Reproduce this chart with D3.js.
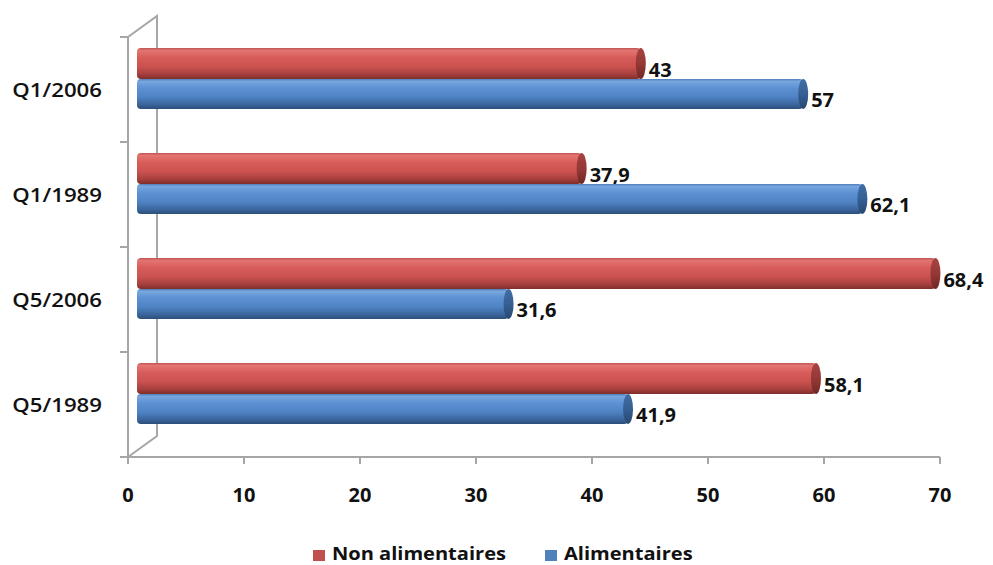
<!DOCTYPE html>
<html><head><meta charset="utf-8">
<script src="https://cdn.jsdelivr.net/npm/d3@7/dist/d3.min.js"></script>
<style>
html,body{margin:0;padding:0;background:#fff;}
text{font-family:"Open Sans",sans-serif;fill:#111;}
</style></head>
<body>
<svg id="chart" width="993" height="565"></svg>
<script>
const categories = ["Q1/2006", "Q1/1989", "Q5/2006", "Q5/1989"];
const nonAlimentaires = [43, 37.9, 68.4, 58.1];
const alimentaires = [57, 62.1, 31.6, 41.9];
const xTicks = [0, 10, 20, 30, 40, 50, 60, 70];
const seriesNames = ["Non alimentaires", "Alimentaires"];

const svg = d3.select("#chart");
const x = d3.scaleLinear().domain([0, 70]).range([128, 940]);
const y = d3.scaleBand().domain(categories).range([37, 457]).padding(0);
const depthX = 29, depthY = 21;
const axisColor = "#a6a6a6";

const defs = svg.append("defs");
function cyl(id, stops) {
  const g = defs.append("linearGradient").attr("id", id).attr("x1", 0).attr("y1", 0).attr("x2", 0).attr("y2", 1);
  stops.forEach(s => g.append("stop").attr("offset", s[0]).attr("stop-color", s[1]));
}
cyl("gRed", [[0, "#c05452"], [0.08, "#e27572"], [0.3, "#d85d5a"], [0.6, "#cb524f"], [0.85, "#a53f3d"], [1, "#7e2d2b"]]);
cyl("gBlue", [[0, "#4f80bb"], [0.08, "#78a6de"], [0.3, "#5c91d3"], [0.6, "#4f83c4"], [0.85, "#3b659c"], [1, "#2c4e7a"]]);
cyl("gRedCap", [[0, "#a84442"], [0.5, "#953836"], [1, "#702826"]]);
cyl("gBlueCap", [[0, "#416ea6"], [0.5, "#365f93"], [1, "#284870"]]);

// back wall / depth lines
const wall = svg.append("g").attr("stroke", axisColor).attr("stroke-width", 2).attr("fill", "none");
wall.append("path").attr("d", `M${x(0)},${y.range()[0]} L${x(0)+depthX},${y.range()[0]-depthY} L${x(0)+depthX},${y.range()[1]-depthY} L${x(0)},${y.range()[1]}`);

// axes
const ax = svg.append("g").attr("stroke", axisColor).attr("stroke-width", 2);
ax.append("line").attr("x1", x(0)).attr("x2", x(0)).attr("y1", y.range()[0]).attr("y2", y.range()[1] + 6);
ax.append("line").attr("x1", x(0) - 8).attr("x2", x(70)).attr("y1", y.range()[1]).attr("y2", y.range()[1]);
const bounds = categories.map(c => y(c)).concat([y.range()[1]]);
ax.selectAll(".yt").data(bounds).join("line").attr("x1", x(0) - 8).attr("x2", x(0)).attr("y1", d => d).attr("y2", d => d);
ax.selectAll(".xt").data(xTicks).join("line").attr("x1", d => x(d)).attr("x2", d => x(d)).attr("y1", y.range()[1]).attr("y2", y.range()[1] + 7);

svg.append("g").selectAll("text").data(xTicks).join("text")
  .attr("x", d => x(d)).attr("y", 502).attr("text-anchor", "middle")
  .attr("font-size", 20).attr("font-weight", 700).text(d => d);

svg.append("g").selectAll("text").data(categories).join("text")
  .attr("transform", d => `translate(102,${y(d) + y.bandwidth()/2 + 7}) scale(1.17,1)`)
  .attr("text-anchor", "end").attr("font-size", 19).attr("font-weight", 600).text(d => d);

// bars
const shiftX = 19;
const fmt = v => String(v).replace(".", ",");
const series = [
  {vals: nonAlimentaires, grad: "gRed", cap: "gRedCap", top: 11, h: 31},
  {vals: alimentaires, grad: "gBlue", cap: "gBlueCap", top: 42, h: 30}
];
const bars = svg.append("g");
series.forEach(s => {
  categories.forEach((c, i) => {
    const v = s.vals[i];
    const y0 = y(c) + s.top;
    const xStart = x(0) + 9;
    const xEnd = x(v) + shiftX;
    const capR = 5;
    bars.append("rect").attr("x", xStart).attr("y", y0).attr("width", xEnd - capR - xStart).attr("height", s.h)
      .attr("rx", 4).attr("fill", `url(#${s.grad})`);
    bars.append("ellipse").attr("cx", xEnd - capR).attr("cy", y0 + s.h/2).attr("rx", capR).attr("ry", s.h/2)
      .attr("fill", `url(#${s.cap})`);
    bars.append("text").attr("x", xEnd + 3).attr("y", y0 + s.h/2 + 13)
      .attr("font-size", 20).attr("font-weight", 700).text(fmt(v));
  });
});

// legend
const legendColors = ["#c0504d", "#4f81bd"];
const legendX = [313, 545];
const lg = svg.append("g");
seriesNames.forEach((n, i) => {
  lg.append("rect").attr("x", legendX[i]).attr("y", 550).attr("width", 12).attr("height", 11).attr("fill", legendColors[i]);
  lg.append("text").attr("transform", `translate(${legendX[i] + 19},560) scale(1.18,1)`)
    .attr("font-size", 17).attr("font-weight", 700).text(n);
});
</script>
</body></html>
